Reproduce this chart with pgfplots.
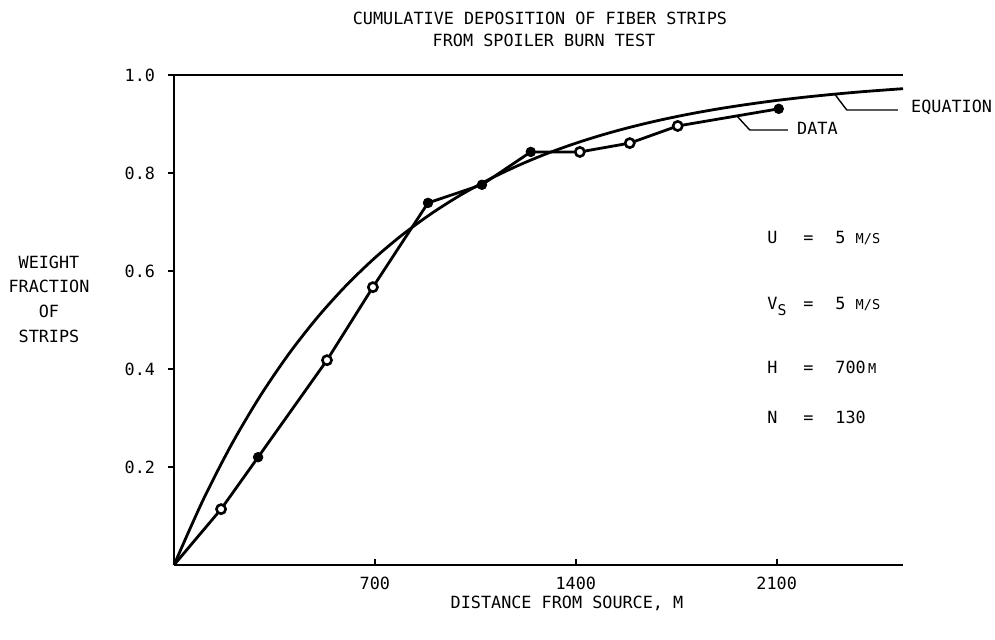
\documentclass[border=0pt]{standalone}
\usepackage{pgfplots}
\pgfplotsset{compat=1.18}
\usepackage{fontspec}
\setmainfont{DejaVu Sans Mono}
\begin{document}
\fontsize{8.4}{11}\selectfont
\begin{tikzpicture}
\begin{axis}[
  at={(0,0)}, anchor=south west,
  scale only axis, width=364.5pt, height=245pt,
  xmin=0, xmax=2540, ymin=0, ymax=1,
  clip=false,
  axis x line*=bottom, axis y line*=left,
  axis line style={line width=1.4pt, black},
  xtick={700,1400,2100}, ytick={0.2,0.4,0.6,0.8,1.0},
  tick align=outside, major tick length=3pt,
  tick style={line width=1pt, black},
  x tick style={yshift=3pt},
  /pgf/number format/assume math mode=true,
  ticklabel style={font=\fontsize{8.4}{10}\selectfont},
  yticklabel style={/pgf/number format/.cd, fixed, fixed zerofill, precision=1, /tikz/.cd, xshift=-3.5pt},
  xticklabel style={/pgf/number format/.cd, 1000 sep={}},
]
% top frame line
\addplot[line width=1.4pt, black] coordinates {(0,1) (2540,1)};
% equation curve
\addplot[line width=1.4pt, black, smooth] coordinates {
(0,0) (100,0.131) (200,0.2455) (300,0.3446) (400,0.4307) (500,0.5055)
(600,0.5705) (700,0.6269) (800,0.6759) (900,0.7185) (1000,0.7555)
(1100,0.7876) (1200,0.8155) (1300,0.8398) (1400,0.8608) (1500,0.8791)
(1600,0.8950) (1700,0.9088) (1800,0.9208) (1900,0.9312) (2000,0.9402)
(2100,0.9481) (2200,0.9549) (2300,0.9608) (2400,0.9660) (2540,0.9721)};
% data line
\addplot[line width=1.4pt, black] coordinates {
(0,0) (164,0.114) (293,0.220) (533,0.418) (693,0.567) (885,0.739)
(1073,0.776) (1243,0.843) (1414,0.843) (1588,0.861) (1755,0.896) (2107,0.931)};
% filled markers
\addplot[only marks, mark=*, mark size=2.4pt, black] coordinates {
(293,0.220) (885,0.739) (1073,0.776) (1243,0.843) (2107,0.931)};
% open markers
\addplot[only marks, mark=*, mark size=2.3pt, mark options={fill=white, draw=black, line width=1.3pt}] coordinates {
(164,0.114) (533,0.418) (693,0.567) (1414,0.843) (1588,0.861) (1755,0.896)};
% leader lines
\draw[line width=0.7pt] (axis cs:2302,0.961) -- (axis cs:2344,0.9286) -- (axis cs:2522,0.9286);
\node[anchor=west, inner sep=0pt] at (axis cs:2567,0.933) {EQUATION};
\draw[line width=0.7pt] (axis cs:1961,0.9165) -- (axis cs:2006,0.8878) -- (axis cs:2139,0.8878);
\node[anchor=west, inner sep=0pt] at (axis cs:2170,0.891) {DATA};
\end{axis}
% title
\node[inner sep=0pt] at (183pt,273.5pt) {CUMULATIVE DEPOSITION OF FIBER STRIPS};
\node[inner sep=0pt] at (185pt,262.5pt) {FROM SPOILER BURN TEST};
% y label
\node[align=center, inner sep=0pt, font=\fontsize{8.4}{12.3}\selectfont] at (-62.5pt,133pt) {WEIGHT\\FRACTION\\OF\\STRIPS};
% x label
\node[inner sep=0pt] at (196.5pt,-19pt) {DISTANCE FROM SOURCE, M};
% parameters
\node[anchor=base west, inner sep=0pt] at (296.5pt,161pt) {U};
\node[anchor=base west, inner sep=0pt] at (314.5pt,161pt) {=};
\node[anchor=base west, inner sep=0pt] at (330.5pt,161pt) {5 {\fontsize{6.8}{8}\selectfont M/S}};
\node[anchor=base west, inner sep=0pt] at (296.5pt,128pt) {V\raisebox{-0.7ex}{\fontsize{7.4}{8}\selectfont S}};
\node[anchor=base west, inner sep=0pt] at (314.5pt,128pt) {=};
\node[anchor=base west, inner sep=0pt] at (330.5pt,128pt) {5 {\fontsize{6.8}{8}\selectfont M/S}};
\node[anchor=base west, inner sep=0pt] at (296.5pt,96pt) {H};
\node[anchor=base west, inner sep=0pt] at (314.5pt,96pt) {=};
\node[anchor=base west, inner sep=0pt] at (330.5pt,96pt) {700{\fontsize{6.8}{8}\selectfont\,M}};
\node[anchor=base west, inner sep=0pt] at (296.5pt,71pt) {N};
\node[anchor=base west, inner sep=0pt] at (314.5pt,71pt) {=};
\node[anchor=base west, inner sep=0pt] at (330.5pt,71pt) {130};
\pgfresetboundingbox
\path[use as bounding box] (-87pt,-37pt) rectangle (410.5pt,282.5pt);
\end{tikzpicture}
\end{document}
